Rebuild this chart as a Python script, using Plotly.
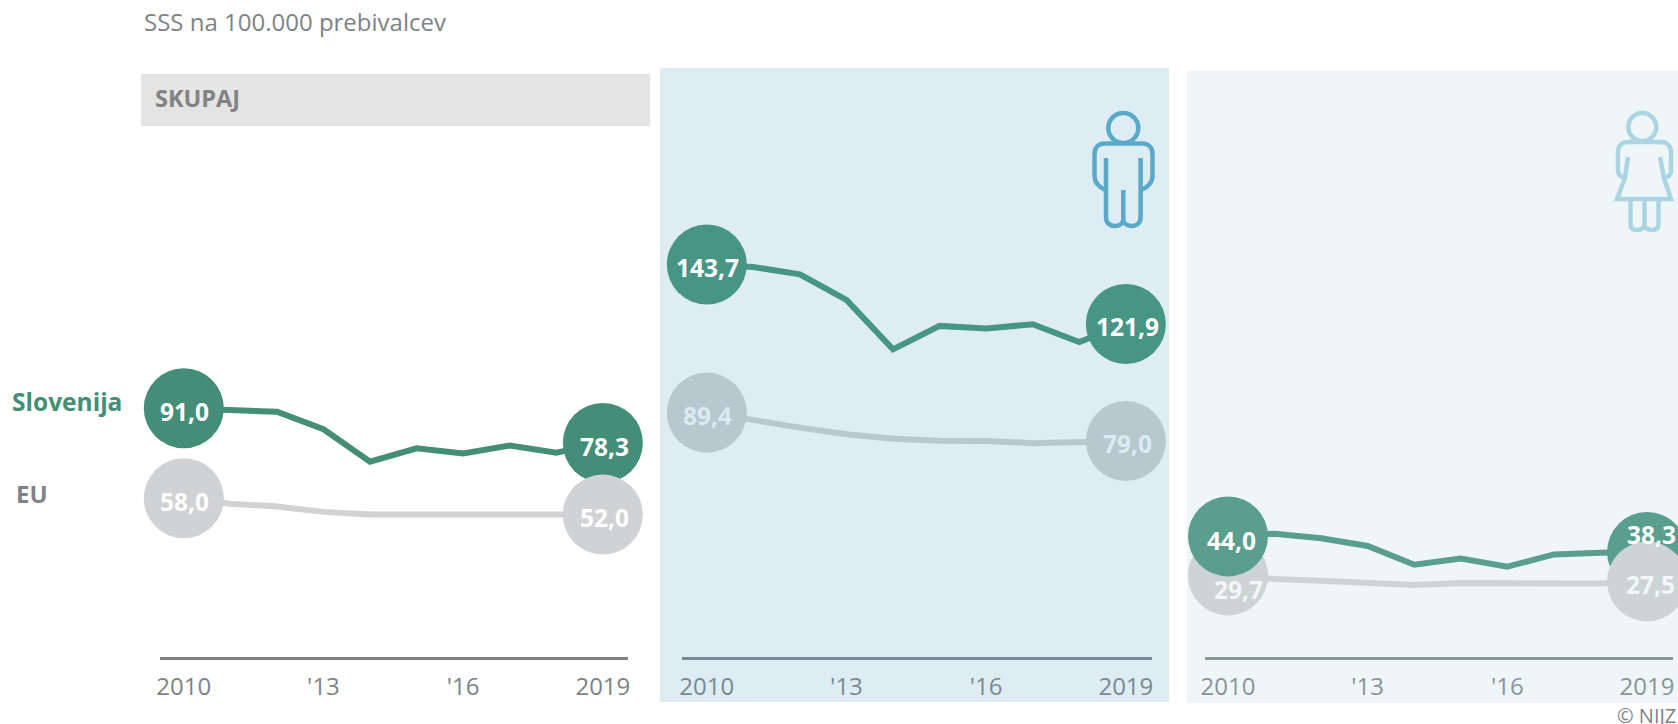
import plotly.graph_objects as go

years = [2010, 2011, 2012, 2013, 2014, 2015, 2016, 2017, 2018, 2019]
tick_years = [2010, 2013, 2016, 2019]
tick_labels = ["2010", "'13", "'16", "2019"]

si_total = [91.0, 90.6, 89.7, 83.3, 71.4, 76.3, 74.4, 77.3, 74.7, 78.3]
eu_total = [58.0, 56.0, 55.0, 53.0, 52.0, 52.0, 52.0, 52.0, 52.0, 52.0]
si_men = [143.7, 142.8, 140.1, 130.7, 112.6, 121.2, 120.2, 121.8, 115.3, 121.9]
eu_men = [89.4, 86.4, 83.9, 81.5, 79.8, 79.1, 79.0, 78.2, 78.5, 79.0]
si_women = [44.0, 45.0, 43.3, 40.5, 33.6, 35.9, 32.9, 37.4, 38.0, 38.3]
eu_women = [29.7, 28.4, 27.7, 27.0, 26.2, 26.9, 26.9, 26.8, 26.7, 27.5]

W, H = 1678, 724
FONT = "Open Sans"
PX_PER_YEAR = 46.56
PX_PER_UNIT = 2.727
AXIS_Y = 657
TOP_Y = 60
ZERO_Y = 656.4


def px(x):
    return x / W


def py(y):
    return 1 - y / H


panels = [
    dict(si=si_total, eu=eu_total, x0=183.8, left=160, right=628,
         si_col="#448e78", eu_col="#d1d2d4", eu_txt="#ffffff", axis="#808285", tick="#808285",
         order=[("eu", 0), ("si", 0), ("si", 9), ("eu", 9)],
         shift={("si", 0): (1, -3), ("si", 9): (2, -4), ("eu", 0): (1, -3), ("eu", 9): (2, -3)}),
    dict(si=si_men, eu=eu_men, x0=706.8, left=681.5, right=1151.5,
         si_col="#469585", eu_col="#b7c8cf", eu_txt="#dcebf2", axis="#7b8992", tick="#7b8992",
         order=[("eu", 0), ("si", 0), ("si", 9), ("eu", 9)],
         shift={("si", 0): (1, -3), ("si", 9): (2, -3), ("eu", 0): (1, -3), ("eu", 9): (2, -3)}),
    dict(si=si_women, eu=eu_women, x0=1228, left=1205, right=1672.7,
         si_col="#5a9e8e", eu_col="#ccd4d6", eu_txt="#f2f7f8", axis="#8b9499", tick="#8b9499",
         order=[("eu", 0), ("si", 0), ("si", 9), ("eu", 9)],
         shift={("si", 0): (3, -4), ("si", 9): (4, 17), ("eu", 0): (10, -14), ("eu", 9): (3, -3)}),
]

fig = go.Figure()
annotations = []
y_lo = (ZERO_Y - AXIS_Y) / PX_PER_UNIT
y_hi = (ZERO_Y - TOP_Y) / PX_PER_UNIT
layout_axes = {}

for i, p in enumerate(panels, start=1):
    xa, ya = f"x{i}", f"y{i}"
    layout_axes[f"xaxis{i}"] = dict(
        domain=[px(p["left"]), px(p["right"])],
        range=[2010 + (p["left"] - p["x0"]) / PX_PER_YEAR, 2010 + (p["right"] - p["x0"]) / PX_PER_YEAR],
        anchor=ya, automargin=False, showgrid=False, zeroline=False, showline=True, linewidth=3,
        linecolor=p["axis"], tickmode="array", tickvals=tick_years, ticktext=tick_labels, ticks="",
        tickfont=dict(family=FONT, size=24, color=p["tick"]), ticklabelstandoff=6,
    )
    layout_axes[f"yaxis{i}"] = dict(
        domain=[py(AXIS_Y), py(TOP_Y)], range=[y_lo, y_hi], anchor=xa, visible=False, automargin=False,
    )
    for key, col in (("eu", p["eu_col"]), ("si", p["si_col"])):
        fig.add_trace(go.Scatter(
            x=years, y=p[key], xaxis=xa, yaxis=ya, mode="lines", cliponaxis=False,
            line=dict(color=col, width=6, shape="linear"), hoverinfo="skip", showlegend=False,
        ))
    for key, idx in p["order"]:
        col = p["si_col"] if key == "si" else p["eu_col"]
        fig.add_trace(go.Scatter(
            x=[years[idx]], y=[p[key][idx]], xaxis=xa, yaxis=ya, mode="markers", cliponaxis=False,
            marker=dict(size=80, color=col, line=dict(width=0)), hoverinfo="skip", showlegend=False,
        ))
    for (key, idx), (dx, dy) in p["shift"].items():
        annotations.append(dict(
            x=years[idx], y=p[key][idx], xref=xa, yref=ya, showarrow=False,
            text=f"{p[key][idx]:.1f}".replace(".", ","), xshift=dx, yshift=dy,
            font=dict(family=FONT, size=24.5, weight=700,
                      color="#ffffff" if key == "si" else p["eu_txt"]),
        ))


def note(text, x, y, size, color, weight=400, anchor="left"):
    annotations.append(dict(
        text=text, x=px(x), y=py(y), xref="paper", yref="paper", xanchor=anchor, yanchor="middle",
        showarrow=False, font=dict(family=FONT, size=size, color=color, weight=weight),
    ))


note("SSS na 100.000 prebivalcev", 141.5, 21, 24, "#808285")
note("SKUPAJ", 153, 98, 23.5, "#808285", 700)
note("Slovenija", 10, 401, 24.5, "#448e78", 700)
note("EU", 14, 493, 24, "#808285", 700)
note("© NIJZ", 1678, 715, 20, "#808285", 400, "right")


def rect(x0, y0, x1, y1, color):
    return dict(type="rect", xref="paper", yref="paper", x0=px(x0), x1=px(x1), y0=py(y0), y1=py(y1),
                fillcolor=color, line=dict(width=0), layer="below")


def path(points_cmds, color, width):
    parts = []
    for cmd, *xy in points_cmds:
        coords = " ".join(f"{px(xy[j]):.5f},{py(xy[j + 1]):.5f}" for j in range(0, len(xy), 2))
        parts.append(f"{cmd}{coords}")
    return dict(type="path", xref="paper", yref="paper", path=" ".join(parts),
                line=dict(color=color, width=width), fillcolor="rgba(0,0,0,0)", layer="above")


def ellipse(cx, cy, r, color, width):
    return dict(type="circle", xref="paper", yref="paper", x0=px(cx - r), x1=px(cx + r),
                y0=py(cy - r), y1=py(cy + r), line=dict(color=color, width=width), fillcolor="rgba(0,0,0,0)")


MAN = "#5aa9c9"
WOMAN = "#acd5e4"
shapes = [
    rect(660, 68, 1169, 702, "#deecf3"),
    rect(1187, 71, 1678, 703, "#eef6f8"),
    rect(141, 74, 650, 126, "#e4e4e4"),
    # man
    ellipse(1123.3, 128, 15, MAN, 4.5),
    path([("M", 1105.5, 190), ("C", 1099, 187, 1094.5, 183, 1094.5, 176), ("L", 1094.5, 154),
          ("C", 1094.5, 147, 1099, 143.5, 1105, 143.5), ("L", 1142, 143.5),
          ("C", 1148, 143.5, 1152.5, 147, 1152.5, 154), ("L", 1152.5, 176),
          ("C", 1152.5, 183, 1148, 187, 1141, 190)], MAN, 4.5),
    path([("M", 1106, 158), ("L", 1106, 217), ("C", 1106, 224, 1111, 226, 1115, 226),
          ("C", 1119, 226, 1123.3, 224, 1123.3, 219), ("C", 1123.3, 224, 1128, 226, 1132, 226),
          ("C", 1136, 226, 1140.6, 224, 1140.6, 217), ("L", 1140.6, 158)], MAN, 4.5),
    path([("M", 1123.3, 190), ("L", 1123.3, 219)], MAN, 4.5),
    # woman
    ellipse(1642.3, 127, 14, WOMAN, 4.5),
    path([("M", 1625, 178), ("C", 1621, 177, 1618, 175, 1618, 171), ("L", 1618, 152),
          ("C", 1618, 146, 1622, 142, 1628, 142), ("L", 1661, 142),
          ("C", 1667, 142, 1671, 146, 1671, 152), ("L", 1671, 171),
          ("C", 1671, 175, 1668, 177, 1664, 178)], WOMAN, 4.5),
    path([("M", 1628, 157), ("L", 1625, 178), ("L", 1617, 199), ("L", 1671, 199), ("L", 1664, 178), ("L", 1660, 157)], WOMAN, 4.5),
    path([("M", 1630.5, 199), ("L", 1630.5, 224), ("C", 1630.5, 229, 1634, 230, 1637, 230),
          ("C", 1641, 230, 1644.5, 229, 1644.5, 224), ("C", 1644.5, 229, 1648, 230, 1652, 230),
          ("C", 1655, 230, 1658.5, 229, 1658.5, 224), ("L", 1658.5, 199)], WOMAN, 4.5),
    path([("M", 1644.5, 199), ("L", 1644.5, 224)], WOMAN, 4.5),
]

fig.update_layout(
    width=W, height=H, autosize=False, margin=dict(l=0, r=0, t=0, b=0),
    paper_bgcolor="#ffffff", plot_bgcolor="rgba(0,0,0,0)", showlegend=False,
    font=dict(family=FONT), annotations=annotations, shapes=shapes, **layout_axes,
)

fig.write_html(
    "out.html",
    config={"displayModeBar": False},
    post_script="document.body.style.margin='0';document.body.style.overflow='hidden';",
)
